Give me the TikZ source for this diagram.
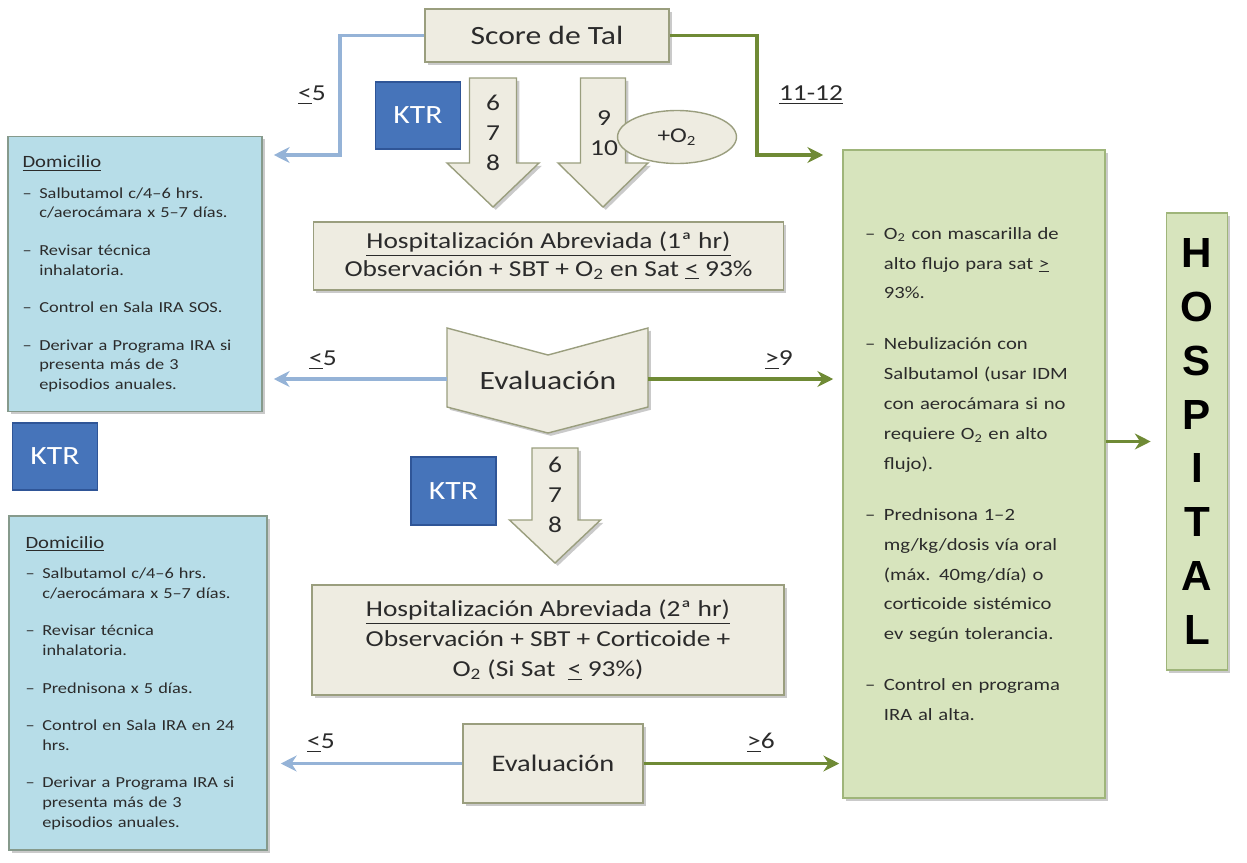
\documentclass[tikz,border=0pt]{standalone}
\usepackage{fontspec}
\setmainfont{Carlito}[FakeStretch=1.2]
\newfontfamily\hospfont{Liberation Sans}
\usetikzlibrary{arrows.meta,shapes.geometric,shadows}

\definecolor{beigefill}{HTML}{EEECE1}
\definecolor{beigeline}{HTML}{9A9E7E}
\definecolor{domfill}{HTML}{B7DDE8}
\definecolor{domline}{HTML}{869A8C}
\definecolor{hospfill}{HTML}{D7E4BD}
\definecolor{hospline}{HTML}{9FB57A}
\definecolor{ktrfill}{HTML}{4674BA}
\definecolor{ktrline}{HTML}{2F5597}
\definecolor{bluearr}{HTML}{95B3D7}
\definecolor{greenarr}{HTML}{6F8A35}
\definecolor{txt}{HTML}{2B2B2B}

\newcommand{\ktrnode}[3]{
  \node[ktrbox] (#1) at (#2,#3) {KTR};
}
\newcommand{\blockarrow}[6]{
  \filldraw[beigeshape] (#1-#2,#4) -- (#1+#2,#4) -- (#1+#2,#5) -- (#1+#3,#5)
    -- (#1,#6) -- (#1-#3,#5) -- (#1-#2,#5) -- cycle;
}
\newcommand{\itemdash}{\makebox[1.1em][l]{–}}
\newcommand{\itemcont}{\hspace*{1.1em}}

\tikzset{
  shadowed/.style   = {drop shadow={shadow xshift=1.6pt, shadow yshift=-1.6pt,
                                    opacity=0.35, fill=black!60}},
  beigebox/.style   = {shadowed, draw=beigeline, fill=beigefill, line width=0.8pt,
                       text=txt, align=center, inner sep=2pt},
  beigeshape/.style = {shadowed, draw=beigeline, fill=beigefill, line width=0.8pt},
  dombox/.style     = {shadowed, draw=domline, fill=domfill, line width=0.9pt,
                       text=txt, align=left, inner sep=0pt,
                       font=\fontsize{8.7}{11.3}\selectfont},
  hospbox/.style    = {shadowed, draw=hospline, fill=hospfill, line width=0.9pt,
                       text=txt, align=left, inner sep=0pt,
                       font=\fontsize{9.8}{17}\selectfont},
  ktrbox/.style     = {draw=ktrline, fill=ktrfill, line width=1pt, text=white,
                       minimum width=1.7cm, minimum height=1.35cm,
                       font=\fontsize{15}{18}\selectfont},
  bluearrow/.style  = {draw=bluearr, line width=2.2pt,
                       -{Stealth[length=9pt,width=9pt]}},
  greenarrow/.style = {draw=greenarr, line width=2.2pt,
                       -{Stealth[length=9pt,width=9pt]}},
  edgelabel/.style  = {text=txt, font=\fontsize{13}{15}\selectfont},
  numbers/.style    = {text=txt, align=center, font=\fontsize{13}{17}\selectfont}
}

\begin{document}
\begin{tikzpicture}[x=0.02cm, y=-0.02cm]
  \useasboundingbox (0,0) rectangle (1247,862);

  \node[beigebox, minimum width=4.88cm, minimum height=1.06cm,
        font=\fontsize{15}{18}\selectfont] (score) at (547,35.5) {Score de Tal};

  \node[dombox, minimum width=5.08cm, minimum height=5.5cm, text width=4.5cm]
    (dom1) at (135,274) {
    {\fontsize{9.8}{11}\selectfont\underline{Domicilio}}\\[6pt]
    \itemdash Salbutamol c/4–6 hrs.\\
    \itemcont c/aerocámara x 5–7 días.\\[10pt]
    \itemdash Revisar técnica\\
    \itemcont inhalatoria.\\[10pt]
    \itemdash Control en Sala IRA SOS.\\[10pt]
    \itemdash Derivar a Programa IRA si\\
    \itemcont presenta más de 3\\
    \itemcont episodios anuales.};

  \node[dombox, minimum width=5.16cm, minimum height=6.68cm, text width=4.5cm]
    (dom2) at (138,683) {
    {\fontsize{9.8}{11}\selectfont\underline{Domicilio}}\\[6pt]
    \itemdash Salbutamol c/4–6 hrs.\\
    \itemcont c/aerocámara x 5–7 días.\\[10pt]
    \itemdash Revisar técnica\\
    \itemcont inhalatoria.\\[10pt]
    \itemdash Prednisona x 5 días.\\[10pt]
    \itemdash Control en Sala IRA en 24\\
    \itemcont hrs.\\[10pt]
    \itemdash Derivar a Programa IRA si\\
    \itemcont presenta más de 3\\
    \itemcont episodios anuales.};

  \node[hospbox, minimum width=5.24cm, minimum height=12.96cm, text width=4.36cm]
    (hosp) at (974,474) {
    \itemdash O\textsubscript{2} con mascarilla de\\
    \itemcont alto flujo para sat \underline{>}\\
    \itemcont 93\%.\\[12pt]
    \itemdash Nebulización con\\
    \itemcont Salbutamol (usar IDM\\
    \itemcont con aerocámara si no\\
    \itemcont requiere O\textsubscript{2} en alto\\
    \itemcont flujo).\\[12pt]
    \itemdash Prednisona 1–2\\
    \itemcont mg/kg/dosis vía oral\\
    \itemcont (máx. 40mg/día) o\\
    \itemcont corticoide sistémico\\
    \itemcont ev según tolerancia.\\[12pt]
    \itemdash Control en programa\\
    \itemcont IRA al alta.};

  \node[shadowed, draw=hospline, fill=hospfill, line width=0.9pt, align=center,
        minimum width=1.22cm, minimum height=9.14cm,
        font=\hospfont\bfseries\fontsize{24}{30.6}\selectfont]
    (hospital) at (1197,441.5) {H\\O\\S\\P\\I\\T\\A\\L};

  \ktrnode{ktrA}{418}{115.5}
  \ktrnode{ktrB}{453.5}{491}
  \ktrnode{ktrC}{55}{456.5}

  \blockarrow{493}{23.5}{46}{78}{163}{207}
  \blockarrow{603}{22.5}{45}{78}{163}{207}
  \node[ellipse, draw=beigeline, fill=beigefill, line width=0.8pt, text=txt,
        minimum width=2.38cm, minimum height=1.06cm,
        font=\fontsize{12}{14}\selectfont] (oxy) at (677,137) {+O\textsubscript{2}};
  \node[numbers] (numA) at (493,133) {6\\7\\8};
  \node[numbers] (numB) at (604,133) {9\\10};

  \node[beigebox, minimum width=9.4cm, minimum height=1.36cm,
        font=\fontsize{13}{15.5}\selectfont] (abrev1) at (548.5,256)
    {\underline{Hospitalización Abreviada (1ª hr)}\\
     Observación + SBT + O\textsubscript{2} en Sat \underline{<} 93\%};

  \filldraw[beigeshape] (447,328) -- (548,355) -- (648,328) -- (648,407)
    -- (548,433) -- (447,407) -- cycle;
  \coordinate (ev1l) at (447,379);
  \coordinate (ev1r) at (648,379);
  \node[text=txt, font=\fontsize{15}{18}\selectfont] (eval1) at (548,380) {Evaluación};

  \blockarrow{555}{23}{45.5}{448}{520}{563}
  \node[numbers] (numC) at (555,495) {6\\7\\8};

  \node[beigebox, minimum width=9.44cm, minimum height=2.2cm,
        font=\fontsize{13}{17}\selectfont] (abrev2) at (548,640)
    {\underline{Hospitalización Abreviada (2ª hr)}\\
     Observación + SBT + Corticoide +\\
     O\textsubscript{2} (Si Sat \ \underline{<} 93\%)};

  \node[beigebox, minimum width=3.6cm, minimum height=1.58cm,
        font=\fontsize{13.5}{16}\selectfont] (eval2) at (553,763.5) {Evaluación};

  \coordinate (bendL) at (340,155);
  \coordinate (bendR) at (757,155);
  \draw[bluearrow, shorten >=0.22cm] (score.west) -| (bendL) -- (bendL -| dom1.east);
  \draw[greenarrow, shorten >=0.38cm] (score.east) -| (bendR) -- (bendR -| hosp.west);
  \draw[bluearrow, shorten >=0.22cm] (ev1l) -- (ev1l -| dom1.east);
  \draw[greenarrow, shorten >=0.18cm] (ev1r) -- (ev1r -| hosp.west);
  \draw[bluearrow, shorten >=0.26cm] (eval2.west) -- (eval2.west -| dom2.east);
  \draw[greenarrow, shorten >=0.06cm] (eval2.east) -- (eval2.east -| hosp.west);
  \draw[greenarrow, shorten >=0.3cm] (hosp.east |- hospital) -- (hospital.west);

  \node[edgelabel] (lblA) at (312,95) {\underline{<}5};
  \node[edgelabel] (lblB) at (811,95) {\underline{11-12}};
  \node[edgelabel] (lblC) at (323,360) {\underline{<}5};
  \node[edgelabel] (lblD) at (779,360) {\underline{>}9};
  \node[edgelabel] (lblE) at (321,743) {\underline{<}5};
  \node[edgelabel] (lblF) at (761,743) {\underline{>}6};
\end{tikzpicture}
\end{document}
